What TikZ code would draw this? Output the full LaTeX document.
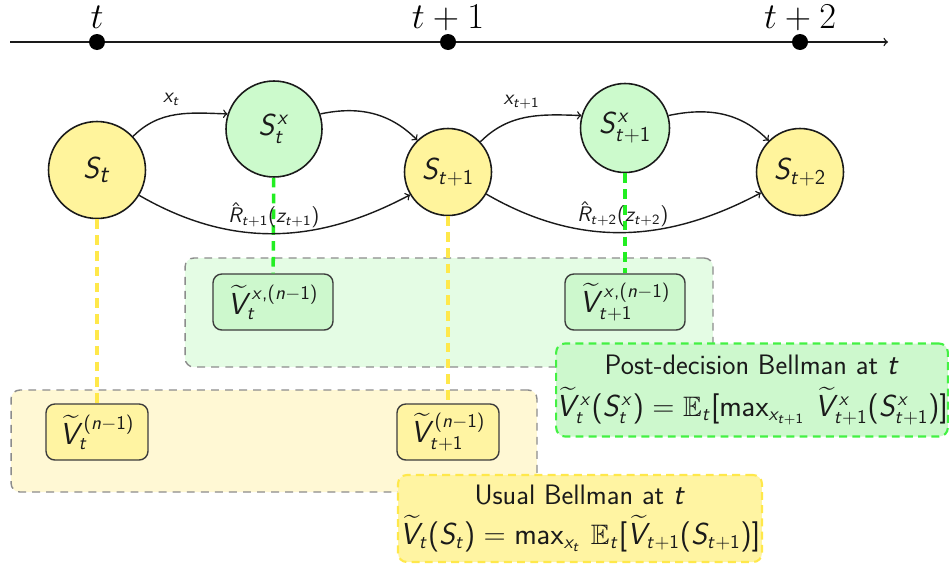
\documentclass[tikz,border=0pt]{standalone}
\usepackage{amssymb}
\DeclareMathVersion{sfm}
\SetSymbolFont{operators}{sfm}{OT1}{cmss}{m}{n}
\SetSymbolFont{letters}{sfm}{OT1}{cmss}{m}{sl}
\SetMathAlphabet{\mathrm}{sfm}{OT1}{cmss}{m}{n}
\DeclareMathSymbol{,}{\mathpunct}{operators}{"2C}
\definecolor{nodeyellow}{HTML}{FFF49C}
\definecolor{nodegreen}{HTML}{CCFACC}
\definecolor{bggreen}{HTML}{E4FCE4}
\definecolor{bgyellow}{HTML}{FFF8D4}
\definecolor{dashyellow}{HTML}{FFE84A}
\definecolor{dashgreen}{HTML}{22EE22}
\definecolor{boxgreen}{HTML}{CDF8CD}
\definecolor{boxyellow}{HTML}{FFF4A2}
\definecolor{ink}{HTML}{1A1A1A}
\newcommand{\sfm}{\sffamily\mathversion{sfm}}
\tikzset{
  snode/.style={circle, draw=ink, line width=0.9pt, inner sep=0pt, text=ink},
  ynode/.style={snode, fill=nodeyellow, minimum size=1.74cm, font=\fontsize{17}{20}\selectfont\sfm},
  gnode/.style={snode, fill=nodegreen, minimum size=1.8cm, font=\fontsize{17}{20}\selectfont\sfm},
  vbox/.style={draw=ink!85, line width=0.8pt, rounded corners=5pt, minimum height=1.12cm, inner sep=0pt, font=\fontsize{16}{19}\selectfont\sfm, text=ink},
  region/.style={draw=black!45, dash pattern=on 4.5pt off 3.5pt, line width=0.8pt, rounded corners=5pt, inner sep=0pt},
  bellbox/.style={dash pattern=on 4.5pt off 3pt, line width=1.2pt, rounded corners=5pt, inner sep=0pt, align=center, font=\fontsize{16}{19}\selectfont\sfm, text=ink},
  edge/.style={->, draw=ink, line width=0.8pt},
  lbl/.style={font=\fontsize{11.5}{13}\selectfont\sfm, text=ink, inner sep=1pt},
  ydash/.style={draw=dashyellow, line width=2pt, dash pattern=on 5.5pt off 3.5pt},
  gdash/.style={draw=dashgreen, line width=2pt, dash pattern=on 5.5pt off 3.5pt},
  tdot/.style={circle, fill=black, inner sep=0pt, minimum size=0.32cm},
  tlabel/.style={font=\fontsize{20}{24}\selectfont, inner sep=0pt}
}
\begin{document}
\begin{tikzpicture}[x=0.02cm,y=0.02cm]
\useasboundingbox (0,0) rectangle (949,-565);

% timeline
\coordinate (tl0) at (10,-42);
\coordinate (tl1) at (888,-42);
\draw[->, line width=0.8pt, draw=ink] (tl0) -- (tl1);
\node[tdot] (d0) at (97,-42) {};
\node[tdot] (d1) at (448,-42) {};
\node[tdot] (d2) at (800,-42) {};
\node[tlabel, anchor=base] (l0) at (97,-28) {$t$};
\node[tlabel, anchor=base] (l1) at (448,-28) {$t+1$};
\node[tlabel, anchor=base] (l2) at (800,-28) {$t+2$};

% background regions
\node[region, fill=bggreen, minimum width=10.56cm, minimum height=2.18cm] (rg) at (449,-312.5) {};
\node[region, fill=bgyellow, minimum width=10.52cm, minimum height=2.04cm] (ry) at (274,-441) {};

% state nodes
\node[ynode, minimum size=1.94cm, font=\fontsize{19}{22}\selectfont\sfm] (St) at (97,-170) {$S_t$};
\node[gnode, minimum size=1.92cm] (Stx) at (274,-129) {$S^x_t$};
\node[ynode] (St1) at (448,-172) {$S_{t+1}$};
\node[gnode, minimum size=1.78cm] (St1x) at (625,-128) {$S^x_{t+1}$};
\node[ynode] (St2) at (800,-172) {$S_{t+2}$};

% value boxes
\node[vbox, fill=boxgreen, minimum width=2.4cm] (Vxt) at (273,-302) {$\widetilde{V}^{x{,}(n-1)}_t$};
\node[vbox, fill=boxgreen, minimum width=2.4cm] (Vxt1) at (625,-302) {$\widetilde{V}^{x{,}(n-1)}_{t+1}$};
\node[vbox, fill=boxyellow, minimum width=2.04cm] (Vt) at (97,-432) {$\widetilde{V}^{(n-1)}_t$};
\node[vbox, fill=boxyellow, minimum width=2.04cm] (Vt1) at (448,-432) {$\widetilde{V}^{(n-1)}_{t+1}$};

% dashed links
\draw[ydash] (St) -- (Vt);
\draw[ydash] (St1) -- (Vt1);
\draw[gdash] (Stx) -- (Vxt);
\draw[gdash] (St1x) -- (Vxt1);

% transitions
\draw[edge] (St.43) to[out=45,in=178] node[lbl, above=4pt, pos=0.45] {$x_t$} (Stx.162);
\draw[edge] (Stx.18) to[out=12,in=135] (St1.134);
\draw[edge] (St.-31) to[out=-30,in=208] node[lbl, above=2pt, pos=0.5] {$\hat{R}_{t+1}(z_{t+1})$} (St1.211);
\draw[edge] (St1.43) to[out=45,in=178] node[lbl, above=4pt, pos=0.45] {$x_{t+1}$} (St1x.164);
\draw[edge] (St1x.16) to[out=12,in=135] (St2.135);
\draw[edge] (St1.-30) to[out=-30,in=208] node[lbl, above=2pt, pos=0.5] {$\hat{R}_{t+2}(z_{t+2})$} (St2.208);

% Bellman boxes
\node[bellbox, draw=dashgreen!85, fill=boxgreen, minimum width=7.76cm, minimum height=1.86cm] (pb) at (752,-390)
  {Post-decision Bellman at $t$\\[5pt]
   $\widetilde{V}^x_t(S^x_t) = \mathbb{E}_t[\max_{x_{t+1}}\,\widetilde{V}^x_{t+1}(S^x_{t+1})]$};
\node[bellbox, draw=dashyellow, fill=boxyellow, minimum width=7.28cm, minimum height=1.74cm] (ub) at (580,-518.5)
  {Usual Bellman at $t$\\[3.5pt]
   $\widetilde{V}_t(S_t) = \max_{x_t}\,\mathbb{E}_t[\widetilde{V}_{t+1}(S_{t+1})]$};
\end{tikzpicture}
\end{document}
